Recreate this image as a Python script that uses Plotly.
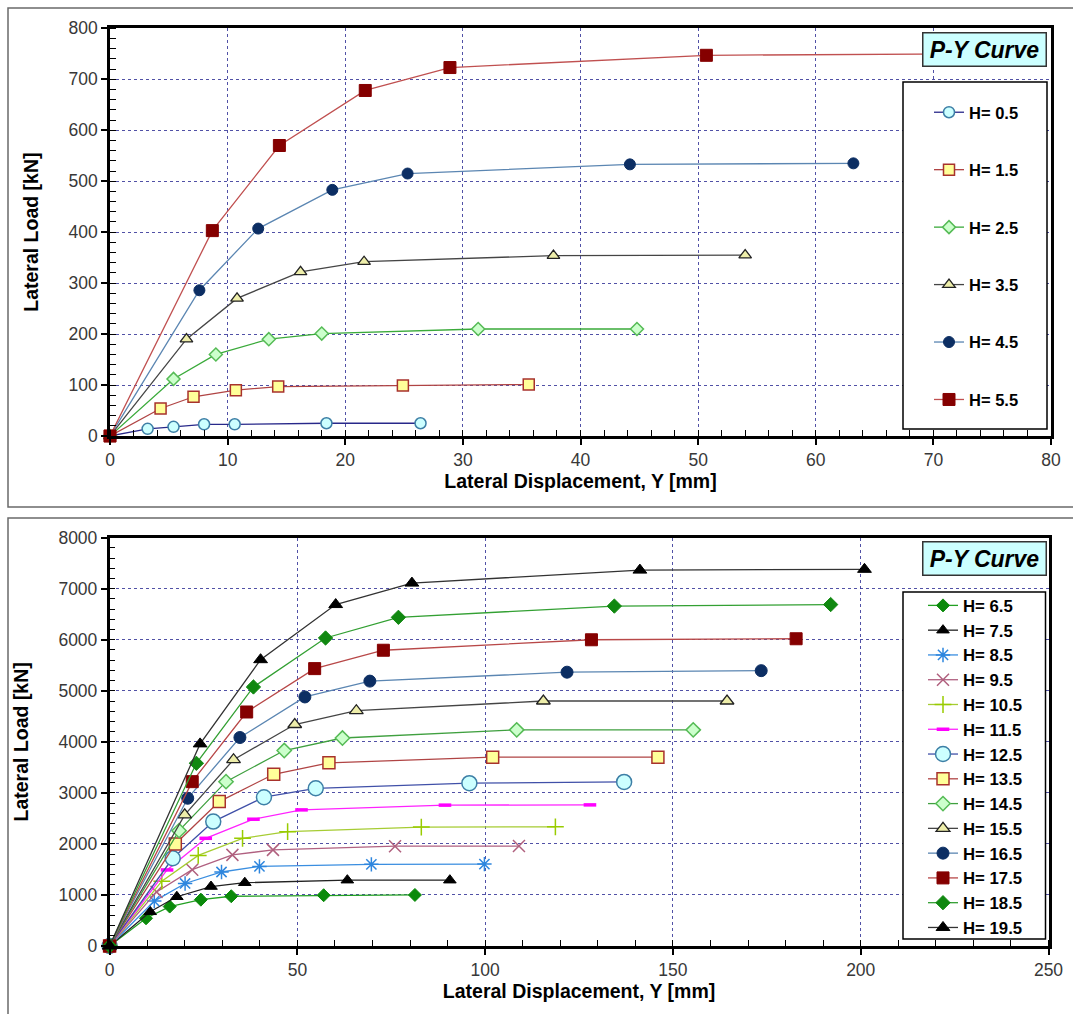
import plotly.graph_objects as go

# ---------------- data: upper panel (H = 0.5 ... 5.5) ----------------
top_labels = ["H= 0.5", "H= 1.5", "H= 2.5", "H= 3.5", "H= 4.5", "H= 5.5"]

y_h05 = [0, 3.2, 5.4, 8.0, 10.6, 18.4, 26.4]
p_h05 = [0, 14, 18, 23, 23, 25, 25]

y_h15 = [0, 4.3, 7.1, 10.7, 14.3, 24.9, 35.6]
p_h15 = [0, 54, 77, 90, 97, 99, 101]

y_h25 = [0, 5.4, 9.0, 13.5, 18.0, 31.3, 44.8]
p_h25 = [0, 112, 160, 190, 201, 210, 210]

y_h35 = [0, 6.5, 10.8, 16.2, 21.6, 37.7, 54.0]
p_h35 = [0, 190, 270, 322, 342, 354, 355]

y_h45 = [0, 7.6, 12.6, 18.9, 25.3, 44.2, 63.2]
p_h45 = [0, 286, 407, 483, 515, 533, 535]

y_h55 = [0, 8.7, 14.4, 21.7, 28.9, 50.7, 72.5]
p_h55 = [0, 403, 570, 678, 723, 747, 750]

# ---------------- data: lower panel (H = 6.5 ... 19.5) ----------------
bot_labels = ["H= 6.5", "H= 7.5", "H= 8.5", "H= 9.5", "H= 10.5", "H= 11.5", "H= 12.5",
              "H= 13.5", "H= 14.5", "H= 15.5", "H= 16.5", "H= 17.5", "H= 18.5", "H= 19.5"]

y_h065 = [0, 9.7, 16.0, 24.3, 32.4, 57.0, 81.3]
p_h065 = [0, 543, 773, 908, 975, 995, 1000]

y_h075 = [0, 10.8, 17.9, 27.0, 36.0, 63.3, 90.6]
p_h075 = [0, 670, 965, 1165, 1240, 1290, 1290]

y_h085 = [0, 11.9, 20.1, 29.8, 39.9, 69.7, 99.8]
p_h085 = [0, 880, 1225, 1450, 1560, 1600, 1605]

y_h095 = [0, 12.5, 22.0, 32.7, 43.5, 76.0, 109.0]
p_h095 = [0, 1060, 1495, 1785, 1883, 1955, 1958]

y_h105 = [0, 13.9, 23.6, 35.4, 47.4, 83.0, 118.7]
p_h105 = [0, 1270, 1775, 2110, 2240, 2330, 2335]

y_h115 = [0, 15.3, 25.6, 38.3, 51.1, 89.3, 127.9]
p_h115 = [0, 1490, 2110, 2484, 2667, 2760, 2765]

y_h125 = [0, 16.8, 27.6, 41.1, 54.9, 95.8, 137.0]
p_h125 = [0, 1719, 2438, 2915, 3090, 3190, 3215]

y_h135 = [0, 17.5, 29.2, 43.7, 58.4, 102.0, 146.0]
p_h135 = [0, 2000, 2830, 3365, 3590, 3700, 3700]

y_h145 = [0, 18.5, 31.0, 46.5, 62.0, 108.4, 155.4]
p_h145 = [0, 2260, 3220, 3830, 4075, 4235, 4235]

y_h155 = [0, 20.0, 33.0, 49.3, 65.7, 115.5, 164.4]
p_h155 = [0, 2570, 3650, 4340, 4610, 4800, 4800]

y_h165 = [0, 20.8, 34.7, 52.0, 69.3, 121.8, 173.5]
p_h165 = [0, 2895, 4085, 4880, 5190, 5365, 5395]

y_h175 = [0, 22.0, 36.5, 54.6, 72.9, 128.3, 182.8]
p_h175 = [0, 3220, 4585, 5435, 5795, 6000, 6020]

y_h185 = [0, 23.1, 38.3, 57.5, 76.9, 134.4, 192.0]
p_h185 = [0, 3580, 5075, 6035, 6440, 6660, 6690]

y_h195 = [0, 24.1, 40.2, 60.2, 80.5, 141.2, 201.0]
p_h195 = [0, 3960, 5610, 6690, 7110, 7365, 7380]

top_series = [
    (y_h05, p_h05), (y_h15, p_h15), (y_h25, p_h25),
    (y_h35, p_h35), (y_h45, p_h45), (y_h55, p_h55),
]
bot_series = [
    (y_h065, p_h065), (y_h075, p_h075), (y_h085, p_h085), (y_h095, p_h095),
    (y_h105, p_h105), (y_h115, p_h115), (y_h125, p_h125), (y_h135, p_h135),
    (y_h145, p_h145), (y_h155, p_h155), (y_h165, p_h165), (y_h175, p_h175),
    (y_h185, p_h185), (y_h195, p_h195),
]

# ---------------- styles: (line colour, symbol, size, fill, edge, edge width) ----------------
top_styles = [
    ("#28288a", "circle", 11, "#ccffff", "#3d7fa6", 1.5),
    ("#b04444", "square", 11, "#ffff99", "#a8322c", 1.5),
    ("#3aaa3a", "diamond", 10, "#ccffcc", "#55bb55", 1.5),
    ("#454545", "triangle-up", 11, "#eeeeaa", "#222222", 1.3),
    ("#5b86b2", "circle", 11, "#0c2e63", "#0c2e63", 1),
    ("#c05050", "square", 12, "#850000", "#850000", 1),
]
bot_styles = [
    ("#22a022", "diamond", 10, "#0a8a0a", "#0a8a0a", 1),
    ("#222222", "triangle-up", 11, "#000000", "#000000", 1),
    ("#3a8ee0", "asterisk-open", 12, "#2e86de", "#2e86de", 1.5),
    ("#b06080", "x-thin-open", 12, "#b0607e", "#b0607e", 1.5),
    ("#a6cc33", "cross-thin-open", 12, "#99cc00", "#99cc00", 1.5),
    ("#ff22ff", "line-ew-open", 9, "#ff00ff", "#ff00ff", 3.5),
    ("#4050a8", "circle", 15, "#ccffff", "#3d7fa6", 1.5),
    ("#b04444", "square", 12, "#ffff99", "#a8322c", 1.5),
    ("#40a040", "diamond", 11, "#ccffcc", "#55bb55", 1.5),
    ("#454545", "triangle-up", 12, "#eeeeaa", "#222222", 1.3),
    ("#5b86b2", "circle", 12, "#0c2e63", "#0c2e63", 1),
    ("#b84848", "square", 12, "#850000", "#850000", 1),
    ("#33a033", "diamond", 11, "#108810", "#108810", 1),
    ("#333333", "triangle-up", 12, "#000000", "#000000", 1),
]

W, H = 1073, 1014


def px(x):
    return x / W


def py(y):
    return 1 - y / H


fig = go.Figure()

for i, ((xs, ys), name, st) in enumerate(zip(top_series, top_labels, top_styles)):
    lc, sym, sz, fill, edge, ew = st
    fig.add_trace(go.Scatter(
        x=xs, y=ys, name=name, mode="lines+markers",
        xaxis="x", yaxis="y", legend="legend", legendgroup="t%d" % i,
        line=dict(color=lc, width=1.3),
        marker=dict(symbol=sym, size=sz, color=fill, line=dict(color=edge, width=ew)),
        cliponaxis=False,
    ))

for i, ((xs, ys), name, st) in enumerate(zip(bot_series, bot_labels, bot_styles)):
    lc, sym, sz, fill, edge, ew = st
    fig.add_trace(go.Scatter(
        x=xs, y=ys, name=name, mode="lines+markers",
        xaxis="x2", yaxis="y2", legend="legend2",
        line=dict(color=lc, width=1.3),
        marker=dict(symbol=sym, size=sz, color=fill, line=dict(color=edge, width=ew)),
        cliponaxis=False,
    ))

FONT = "Liberation Sans, Arial, sans-serif"
tick_font = dict(family=FONT, size=17.5, color="#383838")
title_font = dict(family=FONT, size=19.5, color="#000000", weight="bold")
grid = dict(showgrid=True, gridcolor="rgba(50,50,150,0.85)", griddash="dot", gridwidth=1)


def axis(rng, dtick, minor, domain, anchor, title, standoff):
    return dict(
        range=rng, dtick=dtick, domain=domain, anchor=anchor, automargin=False,
        showline=True, linecolor="#000000", linewidth=2.5, mirror=True,
        ticks="outside", ticklen=6, tickwidth=1.5, tickcolor="#000000",
        minor=dict(ticks="inside", ticklen=6, tickwidth=1.3, tickcolor="#000000", dtick=minor, showgrid=False),
        tickfont=tick_font, zeroline=False,
        title=dict(text=title, font=title_font, standoff=standoff),
        **grid,
    )


fig.update_layout(
    template="none",
    width=W, height=H,
    margin=dict(l=0, r=0, t=0, b=0, autoexpand=False),
    paper_bgcolor="white", plot_bgcolor="white",
    showlegend=True,
    xaxis=axis([0, 80], 10, 2, [px(110), px(1051)], "y", "Lateral Displacement, Y [mm]", 6),
    yaxis=axis([0, 800], 100, 20, [py(436), py(28.3)], "x", "Lateral Load [kN]", 25),
    xaxis2=axis([0, 250], 50, 10, [px(109.6), px(1048.5)], "y2", "Lateral Displacement, Y [mm]", 6),
    yaxis2=axis([0, 8000], 1000, 200, [py(946), py(537.7)], "x2", "Lateral Load [kN]", 25),
    legend=dict(
        x=px(929), y=py(95), xanchor="left", yanchor="top",
        bgcolor="rgba(0,0,0,0)", borderwidth=0, tracegroupgap=33,
        font=dict(family=FONT, size=16.5, color="#000000", weight="bold"),
    ),
    legend2=dict(
        x=px(923), y=py(588), xanchor="left", yanchor="top",
        bgcolor="rgba(0,0,0,0)", borderwidth=0, tracegroupgap=0,
        font=dict(family=FONT, size=16.75, color="#000000", weight="bold"),
    ),
)

shapes = [
    # panel frames
    dict(type="rect", xref="paper", yref="paper", x0=px(8), x1=px(1090), y0=py(8), y1=py(507),
         line=dict(color="#6a6a6a", width=1.5), fillcolor="rgba(0,0,0,0)", layer="below"),
    dict(type="rect", xref="paper", yref="paper", x0=px(8), x1=px(1090), y0=py(518), y1=py(1030),
         line=dict(color="#6a6a6a", width=1.5), fillcolor="rgba(0,0,0,0)", layer="below"),
    # legend boxes
    dict(type="rect", xref="paper", yref="paper", x0=px(903), x1=px(1047), y0=py(82), y1=py(429),
         line=dict(color="#000000", width=1.5), fillcolor="white", layer="above"),
    dict(type="rect", xref="paper", yref="paper", x0=px(903), x1=px(1045.5), y0=py(592), y1=py(939),
         line=dict(color="#000000", width=1.5), fillcolor="white", layer="above"),
]
fig.update_layout(shapes=shapes)

for ytop in (31.5, 540.5):
    fig.add_annotation(
        xref="paper", yref="paper", x=px(1046.5), y=py(ytop), xanchor="right", yanchor="top",
        text="<b><i>P-Y Curve</i></b>", showarrow=False,
        font=dict(family=FONT, size=23, color="#000000"),
        bgcolor="#ccffff", bordercolor="#333333", borderwidth=1.5, borderpad=2,
        width=118, height=28,
    )

fig.write_html("out.html")
